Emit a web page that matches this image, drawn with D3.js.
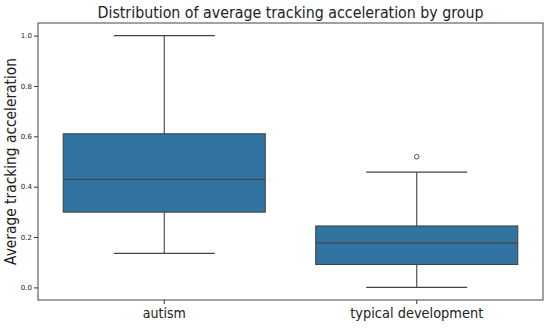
<!DOCTYPE html>
<html>
<head>
<meta charset="utf-8">
<script src="https://cdn.jsdelivr.net/npm/d3@7"></script>
<style>
  body { margin: 0; background: #fff; }
  text { font-family: "DejaVu Sans", sans-serif; fill: #222; }
</style>
</head>
<body>
<div id="chart"></div>
<script>
// groups and their box stats
var groups = ["autism", "typical development"];
var lowWhisker = [0.135, 0.0];
var q1 = [0.299, 0.091];
var median = [0.429, 0.177];
var q3 = [0.610, 0.244];
var highWhisker = [1.0, 0.458];
var outliers = [[], [0.519]];
var yTicks = [0.0, 0.2, 0.4, 0.6, 0.8, 1.0];

var boxColor = "#3274a1";
var lineColor = "#444444";

var W = 550, H = 328;
var margin = {top: 23, right: 7, bottom: 28, left: 38};
var width = W - margin.left - margin.right;
var height = H - margin.top - margin.bottom;

var svg = d3.select("#chart").append("svg")
  .attr("width", W)
  .attr("height", H);

var g = svg.append("g")
  .attr("transform", "translate(" + margin.left + "," + margin.top + ")");

var x = d3.scaleBand().domain(groups).range([0, width]).paddingInner(0).paddingOuter(0);
var y = d3.scaleLinear().domain([-0.05, 1.05]).range([height, 0]);

var data = groups.map(function (name, i) {
  return {name: name, lo: lowWhisker[i], q1: q1[i], med: median[i], q3: q3[i], hi: highWhisker[i], out: outliers[i]};
});

var boxW = x.bandwidth() * 0.8;
var capW = boxW / 2;

var box = g.selectAll(".box").data(data).enter().append("g")
  .attr("class", "box")
  .attr("transform", function (d) { return "translate(" + (x(d.name) + x.bandwidth() / 2) + ",0)"; });

// whiskers
box.append("line")
  .attr("x1", 0).attr("x2", 0)
  .attr("y1", function (d) { return y(d.hi); })
  .attr("y2", function (d) { return y(d.q3); })
  .attr("stroke", lineColor).attr("stroke-width", 1.1);
box.append("line")
  .attr("x1", 0).attr("x2", 0)
  .attr("y1", function (d) { return y(d.q1); })
  .attr("y2", function (d) { return y(d.lo); })
  .attr("stroke", lineColor).attr("stroke-width", 1.1);
// caps
box.append("line")
  .attr("x1", -capW / 2).attr("x2", capW / 2)
  .attr("y1", function (d) { return y(d.hi); })
  .attr("y2", function (d) { return y(d.hi); })
  .attr("stroke", lineColor).attr("stroke-width", 1.1);
box.append("line")
  .attr("x1", -capW / 2).attr("x2", capW / 2)
  .attr("y1", function (d) { return y(d.lo); })
  .attr("y2", function (d) { return y(d.lo); })
  .attr("stroke", lineColor).attr("stroke-width", 1.1);

// the box itself
box.append("rect")
  .attr("x", -boxW / 2)
  .attr("width", boxW)
  .attr("y", function (d) { return y(d.q3); })
  .attr("height", function (d) { return y(d.q1) - y(d.q3); })
  .attr("fill", boxColor)
  .attr("stroke", lineColor)
  .attr("stroke-width", 1.1);

// median
box.append("line")
  .attr("x1", -boxW / 2).attr("x2", boxW / 2)
  .attr("y1", function (d) { return y(d.med); })
  .attr("y2", function (d) { return y(d.med); })
  .attr("stroke", lineColor).attr("stroke-width", 1.1);

// outliers
box.selectAll(".flier").data(function (d) { return d.out; }).enter().append("circle")
  .attr("class", "flier")
  .attr("cx", 0)
  .attr("cy", function (v) { return y(v); })
  .attr("r", 2.3)
  .attr("fill", "none")
  .attr("stroke", lineColor)
  .attr("stroke-width", 0.9);

// axes
var yAxis = g.append("g")
  .call(d3.axisLeft(y).tickValues(yTicks).tickFormat(d3.format(".1f")).tickSize(4).tickPadding(2));
yAxis.select(".domain").remove();
yAxis.selectAll("line").attr("stroke", "#333");
yAxis.selectAll("text").style("font-size", "7px").style("font-family", "DejaVu Sans").attr("fill", "#222");

var xAxis = g.append("g")
  .attr("transform", "translate(0," + height + ")")
  .call(d3.axisBottom(x).tickSize(4).tickPadding(4));
xAxis.select(".domain").remove();
xAxis.selectAll("line").attr("stroke", "#333");
xAxis.selectAll("text")
  .style("font-size", "14px").style("font-family", "DejaVu Sans").attr("fill", "#222")
  .attr("textLength", function (d) { return d === "autism" ? 43 : 133; })
  .attr("lengthAdjust", "spacingAndGlyphs");

// frame
g.append("rect")
  .attr("width", width).attr("height", height)
  .attr("fill", "none").attr("stroke", "#555").attr("stroke-width", 1.1);

// title and y label
svg.append("text")
  .attr("x", margin.left + width / 2)
  .attr("y", 18)
  .attr("text-anchor", "middle")
  .style("font-size", "16px")
  .attr("textLength", 386)
  .attr("lengthAdjust", "spacingAndGlyphs")
  .text("Distribution of average tracking acceleration by group");

svg.append("text")
  .attr("text-anchor", "middle")
  .attr("transform", "translate(16," + (margin.top + height / 2) + ") rotate(-90)")
  .style("font-size", "15px")
  .attr("textLength", 207)
  .attr("lengthAdjust", "spacingAndGlyphs")
  .text("Average tracking acceleration");
</script>
</body>
</html>
